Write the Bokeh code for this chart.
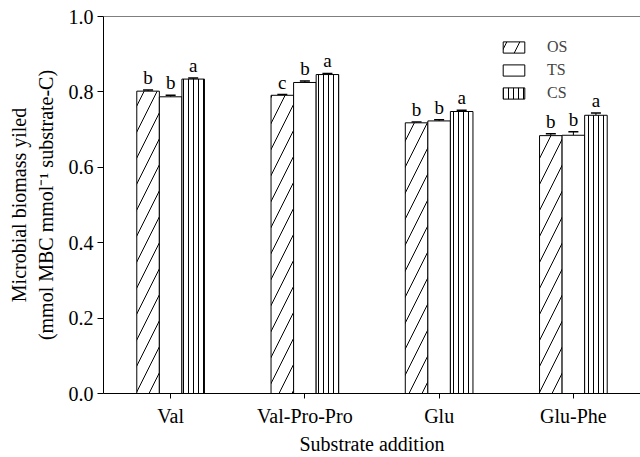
from bokeh.plotting import figure
from bokeh.models import (FactorRange, Range1d, FixedTicker, PrintfTickFormatter, Legend,
                          LegendItem, Whisker, ColumnDataSource, Span)
from bokeh.transform import dodge
from bokeh.core.properties import value
from bokeh.embed import file_html
from bokeh.resources import INLINE

cats = ["Val", "Val-Pro-Pro", "Glu", "Glu-Phe"]
os_vals = [0.802, 0.791, 0.718, 0.684]
ts_vals = [0.787, 0.825, 0.723, 0.685]
cs_vals = [0.834, 0.846, 0.748, 0.738]
os_err = [0.003, 0.002, 0.002, 0.005]
ts_err = [0.004, 0.004, 0.003, 0.009]
cs_err = [0.003, 0.003, 0.003, 0.006]
os_let = ["b", "c", "b", "b"]
ts_let = ["b", "b", "b", "b"]
cs_let = ["a", "a", "a", "a"]
y_ticks = [0.0, 0.2, 0.4, 0.6, 0.8, 1.0]

FONT = "Liberation Serif"
W = 0.168

src = ColumnDataSource(dict(
    cats=cats,
    os=os_vals, ts=ts_vals, cs=cs_vals,
    os_up=[v + e for v, e in zip(os_vals, os_err)],
    ts_up=[v + e for v, e in zip(ts_vals, ts_err)],
    cs_up=[v + e for v, e in zip(cs_vals, cs_err)],
    os_let=os_let, ts_let=ts_let, cs_let=cs_let,
))

p = figure(x_range=FactorRange(factors=cats), y_range=Range1d(0, 1.0),
           width=640, height=457, output_backend="svg", toolbar_location=None,
           min_border_left=103, min_border_right=0, min_border_top=16, min_border_bottom=64)
p.outline_line_color = None
p.grid.grid_line_color = None
p.background_fill_color = "white"

series = [("os", "OS", -W, dict(hatch_pattern="/", hatch_scale=26, hatch_weight=1)),
          ("ts", "TS", 0.0, dict()),
          ("cs", "CS", W, dict(hatch_pattern="|", hatch_scale=5, hatch_weight=1))]
items = []
for key, lab, off, hatch in series:
    r = p.vbar(x=dodge("cats", off, range=p.x_range), top=key, width=W, source=src,
               fill_color="white", line_color="black", line_width=1,
               hatch_color="black", **hatch)
    items.append(LegendItem(label=lab, renderers=[r]))
    wk = Whisker(base=dodge("cats", off, range=p.x_range), upper=key + "_up", lower=key,
                 source=src, line_color="black", line_width=1, lower_head=None)
    wk.upper_head.size = 10
    wk.upper_head.line_width = 1.5
    wk.upper_head.line_color = "black"
    p.add_layout(wk)
    p.text(x=dodge("cats", off, range=p.x_range), y=key + "_up", text=key + "_let", source=src,
           text_align="center", text_baseline="bottom", y_offset=-2,
           text_font=value(FONT), text_font_size="19px", text_color="black")

legend = Legend(items=items, location=(397, 291), glyph_width=27, glyph_height=14,
                label_height=14, spacing=5, padding=0, margin=0, label_standoff=20,
                border_line_color=None, background_fill_alpha=0,
                label_text_font=FONT, label_text_font_size="16px")
p.add_layout(legend)

p.add_layout(Span(location=1.0, dimension="width", line_color="black", line_width=1))

# y axis
ya = p.yaxis[0]
ya.ticker = FixedTicker(ticks=y_ticks)
ya.formatter = PrintfTickFormatter(format="%.1f")
ya.minor_tick_line_color = None
ya.major_tick_out = 6
ya.major_tick_in = 0
ya.major_label_standoff = 4
ya.axis_label = "Microbial biomass yiled\n(mmol MBC mmol\u207b\u00b9 substrate-C)"
ya.axis_label_standoff = 9

# x axis
xa = p.xaxis[0]
xa.major_tick_out = 5
xa.major_tick_in = 0
xa.major_label_standoff = 6
xa.axis_label = "Substrate addition"
xa.axis_label_standoff = 3

for ax in (ya, xa):
    ax.axis_line_color = "black"
    ax.major_tick_line_color = "black"
    ax.major_label_text_font = FONT
    ax.major_label_text_font_size = "20px"
    ax.major_label_text_color = "black"
    ax.axis_label_text_font = FONT
    ax.axis_label_text_font_size = "20px"
    ax.axis_label_text_font_style = "normal"
    ax.axis_label_text_color = "black"

open("out.html", "w").write(file_html(p, INLINE))
